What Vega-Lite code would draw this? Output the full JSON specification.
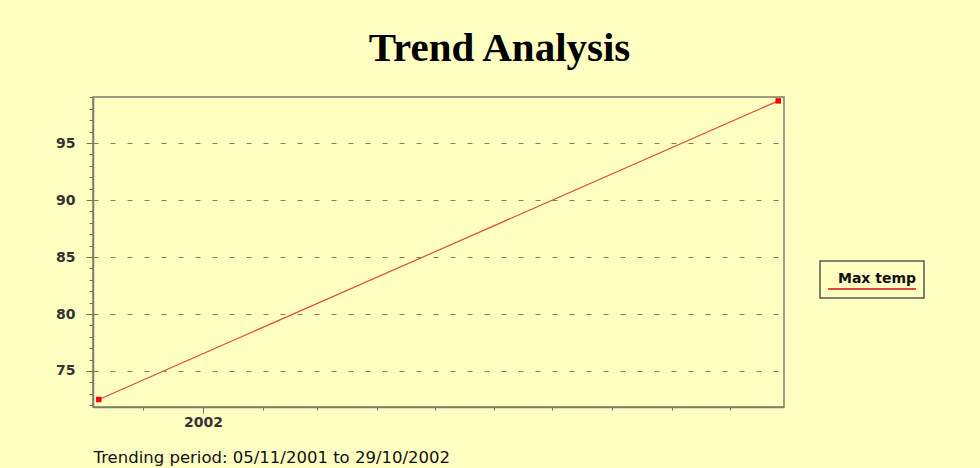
{
  "$schema": "https://vega.github.io/schema/vega-lite/v6.json",
  "width": 691,
  "height": 310,
  "autosize": {"type": "none"},
  "padding": {"left": 93, "top": 97, "right": 196, "bottom": 61},
  "background": "#ffffc2",
  "title": {
    "text": "Trend Analysis",
    "font": "Liberation Serif",
    "fontSize": 41,
    "fontWeight": "bold",
    "color": "#000000",
    "anchor": "middle",
    "frame": "group",
    "dx": 61,
    "dy": 39,
    "baseline": "alphabetic",
    "offset": 34
  },
  "data": {
    "values": [
      {"date": "2001-11-08", "temp": 72.5, "series": "Max temp"},
      {"date": "2002-10-26", "temp": 98.7, "series": "Max temp"}
    ]
  },
  "encoding": {
    "x": {
      "field": "date",
      "type": "temporal",
      "scale": {
        "type": "utc",
        "domain": [
          {"year": 2001, "month": 11, "date": 5, "utc": true},
          {"year": 2002, "month": 10, "date": 29, "utc": true}
        ]
      },
      "axis": {
        "title": "Trending period: 05/11/2001 to 29/10/2002",
        "values": [
          {"year": 2001, "month": 12, "date": 1, "utc": true},
          {"year": 2002, "month": 1, "date": 1, "utc": true},
          {"year": 2002, "month": 2, "date": 1, "utc": true},
          {"year": 2002, "month": 3, "date": 1, "utc": true},
          {"year": 2002, "month": 4, "date": 1, "utc": true},
          {"year": 2002, "month": 5, "date": 1, "utc": true},
          {"year": 2002, "month": 6, "date": 1, "utc": true},
          {"year": 2002, "month": 7, "date": 1, "utc": true},
          {"year": 2002, "month": 8, "date": 1, "utc": true},
          {"year": 2002, "month": 9, "date": 1, "utc": true},
          {"year": 2002, "month": 10, "date": 1, "utc": true}
        ],
        "format": "%Y",
        "labelExpr": "utcmonth(datum.value) === 0 ? datum.label : ''",
        "tickSize": {"condition": {"test": "utcmonth(datum.value) === 0", "value": 6}, "value": 3},
        "grid": false,
        "labelFont": "DejaVu Sans",
        "labelFontSize": 14,
        "labelFontWeight": "bold",
        "labelColor": "#333333",
        "labelPadding": 2,
        "titleFont": "DejaVu Sans",
        "titleFontSize": 16.5,
        "titleFontWeight": "normal",
        "titleColor": "#111111",
        "titleAnchor": "start",
        "titleAlign": "left",
        "titleX": 0,
        "titleY": 55,
        "titleBaseline": "alphabetic"
      }
    },
    "y": {
      "field": "temp",
      "type": "quantitative",
      "scale": {"domain": [71.84, 99.04], "nice": false, "zero": false},
      "axis": {
        "title": null,
        "values": [72, 73, 74, 75, 76, 77, 78, 79, 80, 81, 82, 83, 84, 85, 86, 87, 88, 89, 90, 91, 92, 93, 94, 95, 96, 97, 98, 99],
        "labelExpr": "datum.value % 5 === 0 ? datum.label : ''",
        "tickSize": {"condition": {"test": "datum.value % 5 === 0", "value": 7}, "value": 4},
        "grid": true,
        "gridOpacity": {"condition": {"test": "datum.value % 5 === 0", "value": 1}, "value": 0},
        "gridDash": [5, 12],
        "gridColor": "#7e7e72",
        "gridWidth": 1,
        "labelFont": "DejaVu Sans",
        "labelFontSize": 14,
        "labelFontWeight": "bold",
        "labelColor": "#333333",
        "labelPadding": 11
      }
    }
  },
  "layer": [
    {
      "mark": {"type": "line", "strokeWidth": 1.2},
      "encoding": {
        "color": {
          "field": "series",
          "type": "nominal",
          "scale": {"range": ["#e04b3b"]},
          "legend": {
            "orient": "none",
            "legendX": 727,
            "legendY": 164,
            "title": null,
            "symbolType": "stroke",
            "symbolSize": 9400,
            "symbolStrokeWidth": 2,
            "clipHeight": 23,
            "labelAlign": "center",
            "labelOffset": -49,
            "labelFont": "DejaVu Sans",
            "labelFontSize": 14,
            "labelFontWeight": "bold",
            "labelColor": "#111111",
            "labelBaseline": "alphabetic",
            "padding": 7,
            "strokeColor": "#5a5a50",
            "fillColor": "#ffffc2",
            "encode": {
              "labels": {"update": {"dy": {"value": 3}}},
              "symbols": {"update": {"y": {"value": 21}}}
            }
          }
        }
      }
    },
    {
      "mark": {"type": "point", "shape": "square", "filled": true, "size": 30, "color": "#ff0000", "opacity": 1}
    }
  ],
  "config": {
    "view": {"fill": "#ffffc2", "stroke": "#7d7d6a", "strokeWidth": 1.5},
    "axis": {"domainColor": "#7d7d6a", "domainWidth": 1.5, "tickColor": "#6f6f62", "tickWidth": 1},
    "legend": {"strokeWidth": 1.5}
  }
}
